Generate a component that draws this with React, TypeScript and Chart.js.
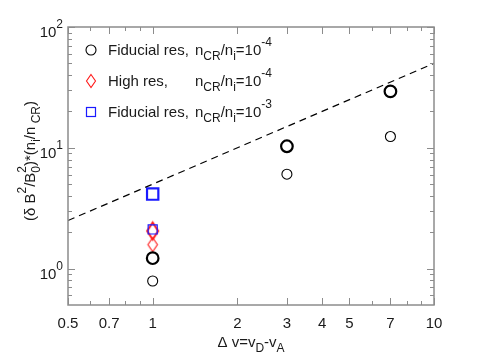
import React, { useEffect, useRef } from 'react';
import { Chart, registerables } from 'chart.js';
Chart.register(...registerables);

const FONT = '"Liberation Sans", Arial, Helvetica, sans-serif';

// ---- data ----
const fidLowX = [1, 3, 7];
const fidLowThickY = [1.22, 10.3, 29.3];
const fidLowThinY = [0.79, 6.05, 12.4];
const highX = [1];
const highThickY = [2.05];
const highThinY = [1.58];
const fidHighX = [1];
const fidHighThickY = [4.14];
const fidHighThinY = [2.11];
const fitX = [0.5, 10];
const fitY = [2.5, 50];

const xMajorTicks = [0.5, 0.7, 1, 2, 3, 4, 5, 7, 10];
const xTickLabels = ['0.5', '0.7', '1', '2', '3', '4', '5', '7', '10'];
const xMinorTicks = [0.6, 0.8, 0.9, 6, 8, 9];
const yMajorTicks = [1, 10, 100];
const yTickExponents = ['0', '1', '2'];
const yMinorTicks = [0.6, 0.7, 0.8, 0.9, 2, 3, 4, 5, 6, 7, 8, 9, 20, 30, 40, 50, 60, 70, 80, 90];

const legendLabels = ['Fiducial res,', 'High res,', 'Fiducial res,'];
const legendExponents = ['-4', '-4', '-3'];

const BLACK = '#000000';
const RED = '#ff1a1a';
const BLUE = '#1a1aff';
const TEXT = '#1a1a1a';
const FRAME = '#8c8c8c';

type Seg = [string, 'n' | 'sub' | 'sup' | 'stack'];

function drawRich(
  ctx: CanvasRenderingContext2D,
  segs: Seg[],
  x: number,
  y: number,
  size: number,
  align: 'left' | 'center' | 'right'
) {
  const main = `${size}px ${FONT}`;
  const small = `${Math.round(size * 0.78)}px ${FONT}`;
  const subDy = size * 0.36;
  const supDy = -size * 0.58;
  const widths = segs.map(([t, k]) => {
    if (k === 'n') {
      ctx.font = main;
      return ctx.measureText(t).width;
    }
    ctx.font = small;
    if (k === 'stack') {
      const [a, b] = t.split('|');
      return Math.max(ctx.measureText(a).width, ctx.measureText(b).width);
    }
    return ctx.measureText(t).width;
  });
  const total = widths.reduce((a, b) => a + b, 0);
  let cx = align === 'left' ? x : align === 'center' ? x - total / 2 : x - total;
  ctx.textAlign = 'left';
  ctx.textBaseline = 'alphabetic';
  segs.forEach(([t, k], i) => {
    if (k === 'n') {
      ctx.font = main;
      ctx.fillText(t, cx, y);
    } else {
      ctx.font = small;
      if (k === 'sub') ctx.fillText(t, cx, y + subDy);
      else if (k === 'sup') ctx.fillText(t, cx, y + supDy);
      else {
        const [a, b] = t.split('|');
        ctx.fillText(a, cx, y + subDy);
        ctx.fillText(b, cx, y + supDy);
      }
    }
    cx += widths[i];
  });
}

function makeDiamond(w: number, h: number, color: string, lw: number): HTMLCanvasElement {
  const c = document.createElement('canvas');
  c.width = Math.ceil(w + lw * 2 + 2);
  c.height = Math.ceil(h + lw * 2 + 2);
  const g = c.getContext('2d')!;
  const cx = c.width / 2;
  const cy = c.height / 2;
  g.strokeStyle = color;
  g.lineWidth = lw;
  g.lineJoin = 'miter';
  g.beginPath();
  g.moveTo(cx, cy - h / 2);
  g.lineTo(cx + w / 2, cy);
  g.lineTo(cx, cy + h / 2);
  g.lineTo(cx - w / 2, cy);
  g.closePath();
  g.stroke();
  return c;
}

export default function App() {
  const ref = useRef<HTMLCanvasElement>(null);

  useEffect(() => {
    if (!ref.current) return;
    const diamondThick = makeDiamond(11, 17, RED, 2);
    const diamondThin = makeDiamond(9.5, 14, RED, 1.1);
    const diamondLegend = makeDiamond(9, 13, RED, 1.1);

    const pts = (xs: number[], ys: number[]) => xs.map((x, i) => ({ x, y: ys[i] }));

    const decor = {
      id: 'decor',
      afterDraw(chart: any) {
        const ctx: CanvasRenderingContext2D = chart.ctx;
        const { left, right, top, bottom } = chart.chartArea;
        const xs = chart.scales.x;
        const ys = chart.scales.y;
        ctx.save();
        // frame
        ctx.strokeStyle = FRAME;
        ctx.lineWidth = 1.5;
        ctx.strokeRect(left, top, right - left, bottom - top);
        // ticks
        ctx.lineWidth = 1;
        const xTick = (v: number, len: number) => {
          const px = Math.round(xs.getPixelForValue(v)) + 0.5;
          ctx.beginPath();
          ctx.moveTo(px, bottom);
          ctx.lineTo(px, bottom - len);
          ctx.moveTo(px, top);
          ctx.lineTo(px, top + len);
          ctx.stroke();
        };
        const yTick = (v: number, len: number) => {
          const py = Math.round(ys.getPixelForValue(v)) + 0.5;
          ctx.beginPath();
          ctx.moveTo(left, py);
          ctx.lineTo(left + len, py);
          ctx.moveTo(right, py);
          ctx.lineTo(right - len, py);
          ctx.stroke();
        };
        xMajorTicks.forEach((v) => xTick(v, 7));
        xMinorTicks.forEach((v) => xTick(v, 4));
        yMajorTicks.forEach((v) => yTick(v, 7));
        yMinorTicks.forEach((v) => yTick(v, 4));

        ctx.fillStyle = TEXT;
        // x tick labels
        xMajorTicks.forEach((v, i) => {
          drawRich(ctx, [[xTickLabels[i], 'n']], xs.getPixelForValue(v), bottom + 23, 15, 'center');
        });
        // y tick labels
        yMajorTicks.forEach((v, i) => {
          drawRich(ctx, [['10', 'n'], [yTickExponents[i], 'sup']], left - 5, ys.getPixelForValue(v) + 10, 15, 'right');
        });
        // x title
        drawRich(
          ctx,
          [['\u0394 v=v', 'n'], ['D', 'sub'], ['-v', 'n'], ['A', 'sub']],
          (left + right) / 2,
          347,
          15,
          'center'
        );
        // y title (rotated)
        ctx.save();
        ctx.translate(35, 161);
        ctx.rotate(-Math.PI / 2);
        drawRich(
          ctx,
          [
            ['(\u03b4 B', 'n'],
            ['2', 'sup'],
            ['/B', 'n'],
            ['0|2', 'stack'],
            [')*(n', 'n'],
            ['i', 'sub'],
            ['/n', 'n'],
            [' CR', 'sub'],
            [')', 'n'],
          ],
          0,
          0,
          15,
          'center'
        );
        ctx.restore();

        // legend
        const rowY = [50, 81, 112];
        const symX = 91;
        ctx.strokeStyle = BLACK;
        ctx.lineWidth = 1.1;
        ctx.beginPath();
        ctx.arc(symX, rowY[0], 5, 0, Math.PI * 2);
        ctx.stroke();
        ctx.drawImage(diamondLegend, symX - diamondLegend.width / 2, rowY[1] - diamondLegend.height / 2);
        ctx.strokeStyle = BLUE;
        ctx.lineWidth = 1.2;
        ctx.strokeRect(symX - 4.5, rowY[2] - 4.5, 9, 9);

        ctx.fillStyle = TEXT;
        legendLabels.forEach((lab, i) => {
          const by = rowY[i] + 5;
          drawRich(ctx, [[lab, 'n']], 108, by, 15, 'left');
          drawRich(
            ctx,
            [
              ['n', 'n'],
              ['CR', 'sub'],
              ['/n', 'n'],
              ['i', 'sub'],
              ['=10', 'n'],
              [legendExponents[i], 'sup'],
            ],
            195,
            by,
            15,
            'left'
          );
        });
        ctx.restore();
      },
    };

    const chart = new Chart(ref.current, {
      type: 'scatter',
      data: {
        datasets: [
          {
            label: 'fit',
            data: pts(fitX, fitY),
            showLine: true,
            borderColor: BLACK,
            borderWidth: 1.2,
            borderDash: [7, 5],
            pointRadius: 0,
          },
          {
            label: 'fid low thick',
            data: pts(fidLowX, fidLowThickY),
            pointStyle: 'circle',
            pointRadius: 5.8,
            pointBorderWidth: 2.2,
            pointBorderColor: BLACK,
            pointBackgroundColor: 'rgba(0,0,0,0)',
          },
          {
            label: 'fid low thin',
            data: pts(fidLowX, fidLowThinY),
            pointStyle: 'circle',
            pointRadius: 5,
            pointBorderWidth: 1.1,
            pointBorderColor: BLACK,
            pointBackgroundColor: 'rgba(0,0,0,0)',
          },
          {
            label: 'fid high thick',
            data: pts(fidHighX, fidHighThickY),
            pointStyle: 'rect',
            pointRadius: 8,
            pointBorderWidth: 2.2,
            pointBorderColor: BLUE,
            pointBackgroundColor: 'rgba(0,0,0,0)',
          },
          {
            label: 'fid high thin',
            data: pts(fidHighX, fidHighThinY),
            pointStyle: 'rect',
            pointRadius: 6.4,
            pointBorderWidth: 1.2,
            pointBorderColor: BLUE,
            pointBackgroundColor: 'rgba(0,0,0,0)',
          },
          {
            label: 'high thick',
            data: pts(highX, highThickY),
            pointStyle: diamondThick,
            pointRadius: 9,
          },
          {
            label: 'high thin',
            data: pts(highX, highThinY),
            pointStyle: diamondThin,
            pointRadius: 8,
          },
        ],
      },
      options: {
        responsive: false,
        animation: false,
        events: [],
        layout: { padding: { left: 68, right: 46, top: 27, bottom: 55 } },
        plugins: { legend: { display: false }, tooltip: { enabled: false } },
        scales: {
          x: { type: 'logarithmic', min: 0.5, max: 10, display: false },
          y: { type: 'logarithmic', min: 0.5, max: 100, display: false },
        },
      },
      plugins: [decor],
    } as any);
    return () => chart.destroy();
  }, []);

  return (
    <div style={{ position: 'absolute', left: 0, top: 0, width: 480, height: 360, background: '#fff' }}>
      <canvas ref={ref} width={480} height={360} style={{ display: 'block' }} />
    </div>
  );
}
